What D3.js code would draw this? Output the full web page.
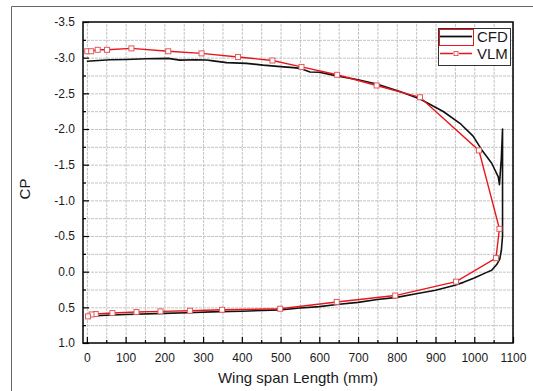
<!DOCTYPE html>
<html>
<head>
<meta charset="utf-8">
<script src="https://cdn.jsdelivr.net/npm/d3@7"></script>
<style>
	body { margin: 0; background: #fff; }
	text { font-family: "Liberation Sans", Arial, sans-serif; fill: #1a1a1a; }
</style>
</head>
<body>
<svg width="533" height="391"></svg>
<script>
// CFD pressure coefficient along the span (upper branch, tip spike, then lower branch)
const cfdSpan = [0, 30, 60, 102, 154, 210, 240, 280, 309, 326, 361, 412, 455, 500, 533, 550, 576, 600, 645, 700, 748, 808, 860, 920, 963, 997, 1019, 1045, 1062, 1065, 1070, 1073, 1073, 1073, 1073, 1070, 1066, 1058, 1045, 1032, 1000, 972, 950, 900, 850, 800, 750, 700, 645, 600, 550, 498, 400, 343, 257, 200, 100, 50, 0]
const cfdCp = [-2.95, -2.96, -2.97, -2.975, -2.985, -2.99, -2.965, -2.97, -2.968, -2.955, -2.93, -2.92, -2.895, -2.875, -2.86, -2.85, -2.8, -2.795, -2.745, -2.69, -2.63, -2.525, -2.42, -2.245, -2.08, -1.9, -1.71, -1.52, -1.33, -1.22, -1.6, -2.0, -1.5, -1.0, -0.5, -0.3, -0.18, -0.1, -0.02, 0.01, 0.09, 0.15, 0.19, 0.26, 0.31, 0.36, 0.39, 0.43, 0.46, 0.49, 0.51, 0.535, 0.555, 0.56, 0.575, 0.585, 0.6, 0.61, 0.625]

// VLM result
const vlmSpan = [1, 11, 28, 52, 115, 210, 296, 390, 479, 554, 646, 748, 860, 1012, 1065, 1056, 953, 796, 645, 499, 349, 266, 190, 128, 66, 23, 12, 3]
const vlmCp = [-3.09, -3.09, -3.11, -3.11, -3.13, -3.09, -3.06, -3.01, -2.96, -2.87, -2.76, -2.61, -2.445, -1.7, -0.6, -0.19, 0.14, 0.335, 0.425, 0.52, 0.534, 0.548, 0.557, 0.566, 0.58, 0.594, 0.6, 0.627]

const xTicks = [0, 100, 200, 300, 400, 500, 600, 700, 800, 900, 1000, 1100]
const yTicks = [-3.5, -3.0, -2.5, -2.0, -1.5, -1.0, -0.5, 0.0, 0.5, 1.0]
const seriesNames = ["CFD", "VLM"]

const svg = d3.select("svg")
const plot = {left: 83, right: 513, top: 22, bottom: 343}

const x = d3.scaleLinear().domain([-10, 1100]).range([plot.left, plot.right])
const y = d3.scaleLinear().domain([-3.5, 1.0]).range([plot.top, plot.bottom])

// outer figure frame
svg.append("path")
	.attr("d", "M11.5,391V6.5H533")
	.attr("fill", "none")
	.attr("stroke", "#666")

// dotted grid on minor steps, drawn as long ticks
const xGrid = d3.range(0, 1101, 50)
const yGrid = d3.range(-3.25, 1.0, 0.25)
svg.append("g")
	.attr("class", "grid")
	.attr("transform", "translate(0," + plot.bottom + ")")
	.call(d3.axisBottom(x).tickValues(xGrid).tickFormat("").tickSize(-(plot.bottom - plot.top)))
svg.append("g")
	.attr("class", "grid")
	.attr("transform", "translate(" + plot.left + ",0)")
	.call(d3.axisLeft(y).tickValues(yGrid).tickFormat("").tickSize(-(plot.right - plot.left)))
svg.selectAll(".grid .domain").remove()
svg.selectAll(".grid .tick line")
	.attr("stroke", "#c4c4c4")
	.attr("stroke-width", 1)
	.attr("stroke-dasharray", "3,1")

// axes, ticks pointing inwards
const xAxis = svg.append("g")
	.attr("transform", "translate(0," + plot.bottom + ")")
	.call(d3.axisBottom(x).tickValues(xTicks).tickFormat(d3.format("d")).tickSize(-6).tickPadding(10))
xAxis.selectAll(".tick line").attr("stroke", "#000").attr("stroke-width", 1.2)
svg.append("g")
	.attr("transform", "translate(0," + plot.bottom + ")")
	.call(d3.axisBottom(x).tickValues(d3.range(50, 1100, 100)).tickFormat("").tickSize(-3))
	.call(g => g.select(".domain").remove())
	.selectAll(".tick line").attr("stroke", "#000").attr("stroke-width", 1.2)

const yAxis = svg.append("g")
	.attr("transform", "translate(" + plot.left + ",0)")
	.call(d3.axisLeft(y).tickValues(yTicks).tickFormat(d3.format(".1f")).tickSize(-6).tickPadding(8))
yAxis.selectAll(".tick line").attr("stroke", "#000").attr("stroke-width", 1.2)
svg.append("g")
	.attr("transform", "translate(" + plot.left + ",0)")
	.call(d3.axisLeft(y).tickValues(d3.range(-3.25, 1.0, 0.5)).tickFormat("").tickSize(-3))
	.call(g => g.select(".domain").remove())
	.selectAll(".tick line").attr("stroke", "#000").attr("stroke-width", 1.2)

svg.selectAll(".domain").remove()
svg.selectAll(".tick text")
	.attr("font-size", 12)
	.attr("font-family", "Liberation Sans, Arial, sans-serif")
	.attr("fill", "#1a1a1a")
yAxis.selectAll(".tick text").text(d => d3.format(".1f")(d).replace("−", "-"))

// plot frame
svg.append("rect")
	.attr("x", plot.left).attr("y", plot.top)
	.attr("width", plot.right - plot.left).attr("height", plot.bottom - plot.top)
	.attr("fill", "none").attr("stroke", "#000").attr("stroke-width", 1.5)

// series
const line = d3.line().x(d => x(d[0])).y(d => y(d[1]))
const cfd = cfdSpan.map((s, i) => [s, cfdCp[i]])
const vlm = vlmSpan.map((s, i) => [s, vlmCp[i]])

svg.append("path")
	.datum(cfd)
	.attr("fill", "none")
	.attr("stroke", "#111")
	.attr("stroke-width", 1.6)
	.attr("stroke-linejoin", "round")
	.attr("d", line)

svg.append("path")
	.datum(vlm)
	.attr("fill", "none")
	.attr("stroke", "#e8161b")
	.attr("stroke-width", 1.4)
	.attr("d", line)

svg.selectAll(".vlm-pt").data(vlm).join("rect")
	.attr("x", d => x(d[0]) - 2.5)
	.attr("y", d => y(d[1]) - 2.5)
	.attr("width", 5).attr("height", 5)
	.attr("fill", "#fff")
	.attr("stroke", "#e05a5e")
	.attr("stroke-width", 1)

// legend
const lg = svg.append("g")
lg.append("rect")
	.attr("x", 438.5).attr("y", 28.5).attr("width", 72).attr("height", 37)
	.attr("fill", "#fff").attr("stroke", "#333").attr("stroke-width", 1)
lg.append("rect")
	.attr("x", 439.5).attr("y", 29.5).attr("width", 34).attr("height", 16)
	.attr("fill", "none").attr("stroke", "#e8161b").attr("stroke-width", 1)
lg.append("line")
	.attr("x1", 440).attr("x2", 472).attr("y1", 36.5).attr("y2", 36.5)
	.attr("stroke", "#111").attr("stroke-width", 1.8)
lg.append("line")
	.attr("x1", 440).attr("x2", 472).attr("y1", 53.5).attr("y2", 53.5)
	.attr("stroke", "#e8161b").attr("stroke-width", 1.4)
	.attr("stroke-dasharray", "13,6")
lg.append("rect")
	.attr("x", 454).attr("y", 51.5).attr("width", 4).attr("height", 4)
	.attr("fill", "#fff").attr("stroke", "#e05a5e")
lg.selectAll(".lt").data(seriesNames).join("text")
	.attr("x", 477)
	.attr("y", (d, i) => 42 + i * 17)
	.attr("font-size", 15)
	.text(d => d)

// axis titles
svg.append("text")
	.attr("x", 298).attr("y", 383)
	.attr("text-anchor", "middle")
	.attr("font-size", 15)
	.text("Wing span Length (mm)")
svg.append("text")
	.attr("transform", "translate(30,189) rotate(-90)")
	.attr("text-anchor", "middle")
	.attr("font-size", 15)
	.text("CP")
</script>
</body>
</html>
